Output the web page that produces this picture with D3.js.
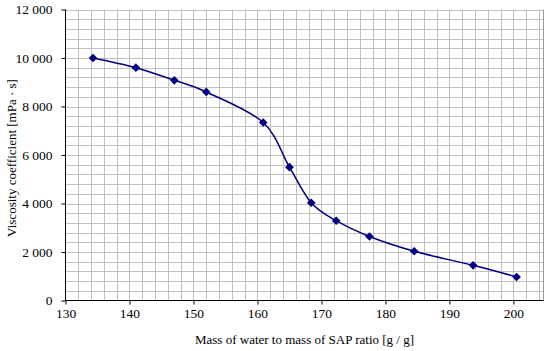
<!DOCTYPE html>
<html>
<head>
<meta charset="utf-8">
<script src="https://cdn.jsdelivr.net/npm/d3@7"></script>
<style>
  body { margin: 0; background: #fff; }
</style>
</head>
<body>
<div id="chart"></div>
<script>
// data
const ratio = [134.3, 141.0, 147.0, 152.0, 160.9, 165.0, 168.4, 172.3, 177.5, 184.5, 193.7, 200.5];
const viscosity = [10000, 9600, 9080, 8600, 7340, 5500, 4030, 3290, 2640, 2030, 1450, 970];
const xTicks = [130, 140, 150, 160, 170, 180, 190, 200];
const yTicks = [0, 2000, 4000, 6000, 8000, 10000, 12000];
const xLabel = 'Mass of water to mass of SAP ratio [g / g]';
const yLabel = 'Viscosity coefficient [mPa \u00b7 s]';

const width = 550, height = 351;
const plotLeft = 65.5, plotRight = 543.5, plotTop = 9.5, plotBottom = 300.5;
const serif = '"Liberation Serif", "DejaVu Serif", serif';

const svg = d3.select('#chart').append('svg')
  .attr('width', width)
  .attr('height', height)
  .attr('font-family', serif);

const x = d3.scaleLinear().domain([130, 204.7]).range([plotLeft, plotRight]);
const y = d3.scaleLinear().domain([0, 12000]).range([plotBottom, plotTop]);

const fmt = d3.formatLocale({ decimal: '.', thousands: ' ', grouping: [3], currency: ['', ''] }).format(',d');

// grid
const grid = svg.append('g').attr('stroke', '#c0c0c0').attr('stroke-width', 1);
grid.selectAll('line.v')
  .data(d3.range(132, 205, 2))
  .enter().append('line')
  .attr('x1', d => Math.round(x(d)) + 0.5).attr('x2', d => Math.round(x(d)) + 0.5)
  .attr('y1', plotTop).attr('y2', plotBottom);
grid.selectAll('line.h')
  .data(d3.range(400, 12001, 400))
  .enter().append('line')
  .attr('x1', plotLeft).attr('x2', plotRight)
  .attr('y1', d => Math.round(y(d)) + 0.5).attr('y2', d => Math.round(y(d)) + 0.5);

// right border
svg.append('line')
  .attr('x1', plotRight).attr('x2', plotRight).attr('y1', plotTop).attr('y2', plotBottom)
  .attr('stroke', '#999');

// axes
const xAxis = svg.append('g')
  .attr('transform', `translate(0,${plotBottom})`)
  .call(d3.axisBottom(x).tickValues(xTicks).tickSize(4).tickPadding(4).tickFormat(d3.format('d')));
const yAxis = svg.append('g')
  .attr('transform', `translate(${plotLeft},0)`)
  .call(d3.axisLeft(y).tickValues(yTicks).tickSize(4).tickPadding(9).tickFormat(fmt));

[xAxis, yAxis].forEach(a => {
  a.attr('font-family', serif).attr('font-size', 13.5);
  a.select('.domain').attr('stroke', '#000');
  a.selectAll('.tick line').attr('stroke', '#000');
  a.selectAll('text')
    .attr('fill', '#000')
    .style('font-family', serif)
    .style('font-size', '13.5px');
});
xAxis.selectAll('.domain').attr('d', `M${plotLeft},0H${plotRight}`);
yAxis.selectAll('.domain').attr('d', `M0,${plotBottom}V${plotTop}`);

// line
const pts = ratio.map((r, i) => [r, viscosity[i]]);
const line = d3.line()
  .x(d => x(d[0]))
  .y(d => y(d[1]))
  .curve(d3.curveCardinal.tension(0));

svg.append('path')
  .datum(pts)
  .attr('fill', 'none')
  .attr('stroke', '#000080')
  .attr('stroke-width', 1.5)
  .attr('d', line);

const diamond = d3.symbol().type(d3.symbolDiamond2).size(48);
svg.selectAll('path.pt')
  .data(pts)
  .enter().append('path')
  .attr('class', 'pt')
  .attr('transform', d => `translate(${x(d[0])},${y(d[1])})`)
  .attr('d', diamond)
  .attr('fill', '#000080');

// axis labels
svg.append('text')
  .attr('x', (plotLeft + plotRight) / 2)
  .attr('y', 344)
  .attr('text-anchor', 'middle')
  .style('font-family', serif)
  .style('font-size', '13px')
  .text(xLabel);

svg.append('text')
  .attr('transform', `translate(16,${(plotTop + plotBottom) / 2 + 3}) rotate(-90)`)
  .attr('text-anchor', 'middle')
  .style('font-family', serif)
  .style('font-size', '13px')
  .text(yLabel);
</script>
</body>
</html>
